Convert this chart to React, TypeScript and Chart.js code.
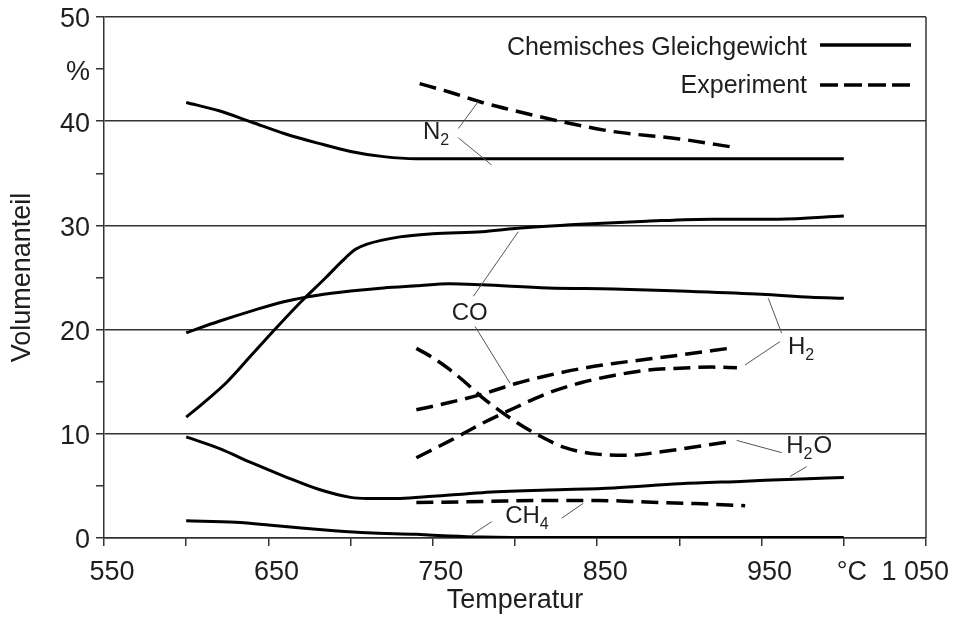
import React, { useEffect, useRef } from 'react';
import { Chart, registerables } from 'chart.js';

Chart.register(...registerables);

// ---- tick labels ----
const xTickLabels = ['550', '', '650', '', '750', '', '850', '', '950', '°C', '1 050'];
const yTickLabels = ['0', '', '10', '', '20', '', '30', '', '40', '%', '50'];
const xTitle = 'Temperatur';
const yTitle = 'Volumenanteil';
const legendLabels = ['Chemisches Gleichgewicht', 'Experiment'];

// ---- series: [temperature °C, volume %] ----
// Chemisches Gleichgewicht (solid)
const n2Eq = [[600, 41.8], [620, 41.0], [640, 39.9], [660, 38.8], [680, 37.9], [700, 37.1], [720, 36.6], [740, 36.4], [800, 36.4], [900, 36.4], [1000, 36.4]];
const coEq = [[600, 11.6], [610, 12.9], [625, 15.0], [640, 17.6], [655, 20.2], [670, 22.7], [685, 25.0], [695, 26.6], [703, 27.7], [710, 28.2], [730, 28.9], [750, 29.2], [780, 29.4], [800, 29.7], [840, 30.1], [880, 30.4], [920, 30.6], [960, 30.6], [1000, 30.9]];
const h2Eq = [[600, 19.7], [620, 20.8], [640, 21.8], [660, 22.7], [680, 23.3], [700, 23.7], [720, 24.0], [740, 24.2], [760, 24.4], [780, 24.3], [820, 24.0], [860, 23.9], [900, 23.7], [950, 23.4], [980, 23.1], [1000, 23.0]];
const h2oEq = [[600, 9.7], [620, 8.6], [640, 7.2], [660, 5.9], [680, 4.7], [700, 3.9], [710, 3.8], [730, 3.8], [750, 4.0], [780, 4.35], [820, 4.6], [860, 4.8], [900, 5.2], [940, 5.45], [970, 5.65], [1000, 5.8]];
const ch4Eq = [[600, 1.65], [630, 1.5], [650, 1.25], [670, 0.95], [690, 0.7], [710, 0.5], [740, 0.35], [760, 0.2], [780, 0.1], [820, 0.05], [900, 0.05], [1000, 0.05]];

// Experiment (dashed)
const n2Exp = [[742, 43.6], [760, 42.8], [780, 41.8], [800, 41.0], [830, 39.9], [860, 39.0], [900, 38.3], [933, 37.5]];
const coExp = [[740, 12.3], [760, 13.0], [780, 13.8], [800, 14.8], [820, 15.6], [840, 16.25], [860, 16.75], [880, 17.15], [900, 17.55], [930, 18.2]];
const h2Exp = [[740, 7.7], [760, 9.3], [780, 11.0], [800, 12.5], [820, 13.9], [840, 14.9], [860, 15.6], [880, 16.1], [900, 16.3], [920, 16.4], [935, 16.35]];
const h2oExp = [[740, 18.2], [750, 17.3], [760, 16.2], [770, 14.9], [780, 13.5], [790, 12.3], [800, 11.2], [815, 9.8], [830, 8.7], [850, 8.05], [870, 7.95], [890, 8.3], [910, 8.75], [933, 9.3]];
const ch4Exp = [[740, 3.4], [780, 3.5], [820, 3.6], [850, 3.6], [880, 3.45], [910, 3.3], [940, 3.1]];

// ---- in-plot labels (data coordinates) with leader lines ----
const annotations = [
  { parts: [['N', false], ['2', true]], t: 744, v: 38.9, leaders: [[765.6, 39.3, 777.7, 41.9], [765.6, 38.4, 785.8, 35.8]] },
  { parts: [['CO', false]], t: 761.5, v: 21.6, leaders: [[774.7, 23.2, 802, 29.4], [775.7, 20.3, 797, 14.85]] },
  { parts: [['H', false], ['2', true]], t: 966, v: 18.3, leaders: [[962.2, 19.65, 954.1, 23.0], [961.2, 18.85, 939.9, 16.6]] },
  { parts: [['H', false], ['2', true], ['O', false]], t: 965, v: 8.75, leaders: [[962.2, 8.19, 934.8, 9.37], [977.4, 6.85, 967.3, 5.9]] },
  { parts: [['CH', false], ['4', true]], t: 794, v: 2.05, leaders: [[828.4, 1.9, 841.5, 3.33], [785.8, 1.57, 773.6, 0.29]] },
];

const FONT = "'Liberation Sans', Arial, Helvetica, sans-serif";
const INK = '#1e1e1e';

const toPts = (arr: number[][]) => arr.map(([x, y]) => ({ x, y }));

const overlayPlugin = {
  id: 'overlay',
  afterDatasetsDraw(chart: any) {
    const { ctx, chartArea, scales } = chart;
    const xs = scales.x;
    const ys = scales.y;
    ctx.save();
    // right frame line
    ctx.strokeStyle = '#333';
    ctx.lineWidth = 1.5;
    ctx.beginPath();
    ctx.moveTo(chartArea.right, chartArea.top);
    ctx.lineTo(chartArea.right, chartArea.bottom);
    ctx.stroke();

    // leader lines
    ctx.strokeStyle = '#555';
    ctx.lineWidth = 1;
    annotations.forEach((a) => {
      a.leaders.forEach(([x1, y1, x2, y2]) => {
        ctx.beginPath();
        ctx.moveTo(xs.getPixelForValue(x1), ys.getPixelForValue(y1));
        ctx.lineTo(xs.getPixelForValue(x2), ys.getPixelForValue(y2));
        ctx.stroke();
      });
    });

    // labels
    ctx.fillStyle = INK;
    ctx.textAlign = 'left';
    ctx.textBaseline = 'middle';
    annotations.forEach((a) => {
      let px = xs.getPixelForValue(a.t);
      const py = ys.getPixelForValue(a.v);
      a.parts.forEach(([txt, sub]) => {
        ctx.font = (sub ? '16px ' : '24px ') + FONT;
        ctx.fillText(txt as string, px, py + (sub ? 8 : 0));
        px += ctx.measureText(txt as string).width + (sub ? 1 : 0);
      });
    });

    // legend (text right, line sample after it)
    const textRight = chartArea.right - 119;
    const lineL = chartArea.right - 106;
    const lineR = chartArea.right - 15;
    ctx.font = '25px ' + FONT;
    ctx.textAlign = 'right';
    const rows = [
      { label: legendLabels[0], ty: chartArea.top + 31, ly: chartArea.top + 28, dash: [] as number[] },
      { label: legendLabels[1], ty: chartArea.top + 69, ly: chartArea.top + 68, dash: [18, 6] },
    ];
    rows.forEach((r) => {
      ctx.fillText(r.label, textRight, r.ty);
      ctx.strokeStyle = '#000';
      ctx.lineWidth = 3.5;
      ctx.setLineDash(r.dash);
      ctx.beginPath();
      ctx.moveTo(lineL, r.ly);
      ctx.lineTo(lineR, r.ly);
      ctx.stroke();
    });
    ctx.setLineDash([]);
    ctx.restore();
  },
};

function makeDataset(label: string, arr: number[][], dashed: boolean) {
  return {
    label,
    data: toPts(arr),
    borderColor: '#000',
    borderWidth: dashed ? 3.5 : 3,
    borderDash: dashed ? [17, 8] : [],
    pointRadius: 0,
    fill: false,
    cubicInterpolationMode: 'monotone' as const,
    borderCapStyle: 'butt' as const,
  };
}

export default function App() {
  const ref = useRef<HTMLCanvasElement | null>(null);
  useEffect(() => {
    if (!ref.current) return;
    const chart = new Chart(ref.current, {
      type: 'line',
      data: {
        datasets: [
          makeDataset('N2 Gleichgewicht', n2Eq, false),
          makeDataset('CO Gleichgewicht', coEq, false),
          makeDataset('H2 Gleichgewicht', h2Eq, false),
          makeDataset('H2O Gleichgewicht', h2oEq, false),
          makeDataset('CH4 Gleichgewicht', ch4Eq, false),
          makeDataset('N2 Experiment', n2Exp, true),
          makeDataset('CO Experiment', coExp, true),
          makeDataset('H2 Experiment', h2Exp, true),
          makeDataset('H2O Experiment', h2oExp, true),
          makeDataset('CH4 Experiment', ch4Exp, true),
        ],
      },
      options: {
        animation: false,
        responsive: false,
        maintainAspectRatio: false,
        layout: { padding: { left: 0, top: 17, right: 29, bottom: 0 } },
        plugins: { legend: { display: false }, tooltip: { enabled: false } },
        scales: {
          x: {
            type: 'linear',
            min: 550,
            max: 1050,
            afterFit: (s: any) => {
              s.height = 85;
              s.paddingLeft = 0;
              s.paddingRight = 0;
            },
            afterBuildTicks: (s: any) => {
              s.ticks = xTickLabels.map((_, i) => ({ value: 550 + i * 50 }));
            },
            ticks: {
              autoSkip: false,
              maxRotation: 0,
              padding: 10,
              labelOffset: 8,
              color: INK,
              font: { family: FONT, size: 27 },
              callback: (_v: any, i: number) => (i === xTickLabels.length - 1 ? xTickLabels[i] + '     ' : xTickLabels[i]),
            },
            grid: { drawOnChartArea: false, drawTicks: true, tickLength: 8, color: '#333', lineWidth: 1.5 },
            border: { display: true, color: '#333', width: 1.5 },
            title: { display: true, text: xTitle, color: INK, font: { family: FONT, size: 27 }, padding: { top: 0, bottom: 6 } },
          },
          y: {
            type: 'linear',
            min: 0,
            max: 50,
            afterFit: (s: any) => {
              s.width = 104;
              s.paddingTop = 0;
              s.paddingBottom = 0;
            },
            afterBuildTicks: (s: any) => {
              s.ticks = yTickLabels.map((_, i) => ({ value: i * 5 }));
            },
            ticks: {
              autoSkip: false,
              padding: 6,
              labelOffset: 3,
              color: INK,
              font: { family: FONT, size: 27 },
              callback: (_v: any, i: number) => yTickLabels[i],
            },
            grid: {
              drawOnChartArea: true,
              drawTicks: true,
              tickLength: 8,
              lineWidth: 1.5,
              color: (c: any) => (c.tick && c.tick.value % 10 === 0 ? '#333' : 'rgba(0,0,0,0)'),
              tickColor: '#333',
            },
            border: { display: true, color: '#333', width: 1.5 },
            title: { display: true, text: yTitle, color: INK, font: { family: FONT, size: 27 }, padding: { top: 6, bottom: 0 } },
          },
        },
      },
      plugins: [overlayPlugin],
    });
    return () => chart.destroy();
  }, []);

  return (
    <div style={{ position: 'absolute', left: 0, top: 0, width: 955, height: 623, background: '#fff' }}>
      <canvas ref={ref} width={955} height={623} style={{ display: 'block', width: 955, height: 623 }} />
    </div>
  );
}
